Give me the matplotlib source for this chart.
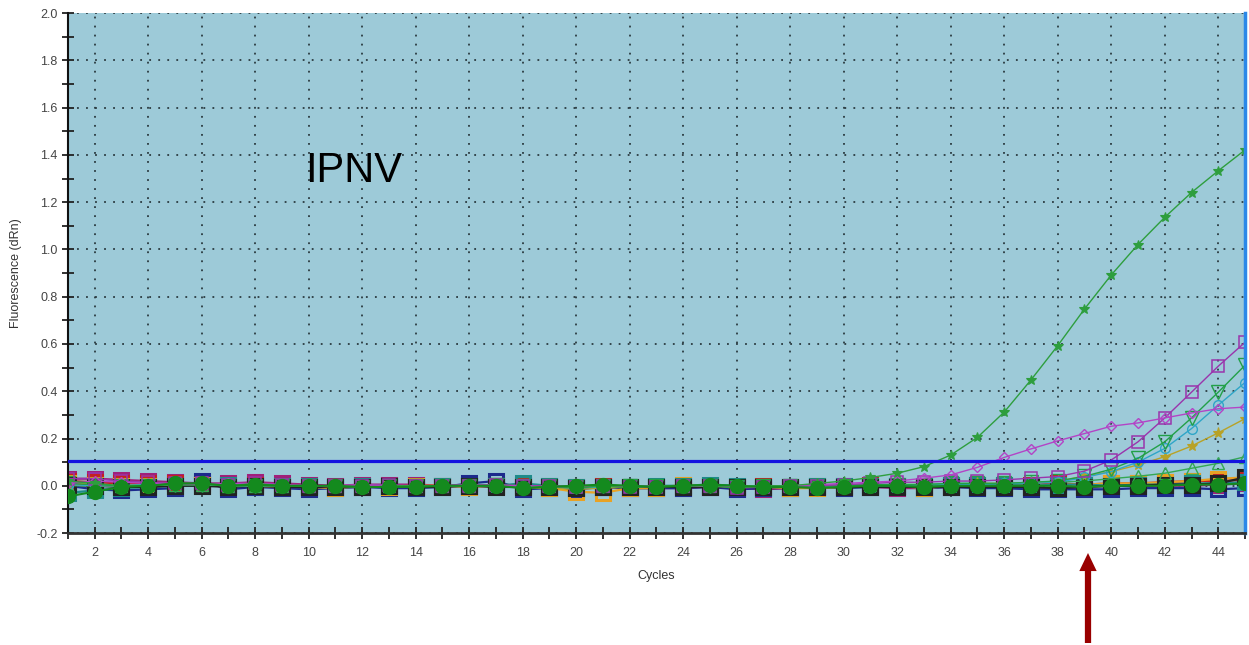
import matplotlib
matplotlib.use('Agg')
from matplotlib import pyplot as plt
from matplotlib.ticker import MultipleLocator, FormatStrFormatter

plt.rcParams['font.family'] = ['Liberation Sans', 'DejaVu Sans']

###data###

cycles = list(range(1, 46))

# amplification curves that cross the threshold
green_star = [0.02, 0.01, 0.0, 0.0, 0.01, 0.01, 0.0, 0.01, 0.0, 0.0,
              0.0, -0.01, 0.0, 0.0, 0.0, 0.0, 0.0, -0.01, 0.0, -0.01,
              0.0, -0.01, 0.0, 0.0, 0.0, -0.01, 0.0, 0.0, 0.01, 0.02,
              0.035, 0.053, 0.081, 0.13, 0.205, 0.312, 0.448, 0.593, 0.748, 0.892,
              1.021, 1.136, 1.241, 1.333, 1.421]
purple_diamond = [0.01, 0.02, 0.015, 0.01, 0.01, 0.005, 0.01, 0.01, 0.005, 0.0,
                  0.0, 0.005, 0.0, 0.0, 0.0, 0.005, 0.0, 0.0, -0.005, -0.005,
                  0.0, -0.005, 0.0, 0.0, 0.0, -0.005, -0.005, 0.0, 0.005, 0.01,
                  0.015, 0.02, 0.032, 0.046, 0.078, 0.12, 0.156, 0.19, 0.221, 0.252,
                  0.266, 0.287, 0.308, 0.326, 0.333]
purple_square = [0.03, 0.03, 0.02, 0.015, 0.01, 0.01, 0.005, 0.01, 0.005, 0.0,
                 0.0, 0.0, 0.005, 0.0, 0.0, 0.0, 0.005, 0.0, 0.0, -0.005,
                 0.0, -0.005, -0.005, 0.0, 0.0, -0.01, -0.005, 0.0, 0.0, 0.005,
                 0.01, 0.015, 0.015, 0.02, 0.02, 0.025, 0.032, 0.039, 0.062, 0.109,
                 0.186, 0.287, 0.396, 0.506, 0.607]
green_down = [0.01, 0.005, 0.0, 0.0, 0.005, 0.005, 0.0, 0.0, 0.0, 0.0,
              0.0, -0.005, 0.0, 0.0, 0.0, 0.0, 0.005, 0.0, 0.0, -0.005,
              0.0, 0.0, 0.0, 0.0, 0.0, -0.005, 0.0, 0.0, 0.0, 0.0,
              0.005, 0.005, 0.005, 0.01, 0.01, 0.01, 0.015, 0.02, 0.04, 0.07,
              0.116, 0.186, 0.287, 0.396, 0.51]
cyan_circle = [0.005, 0.0, 0.0, 0.005, 0.005, 0.005, 0.0, 0.0, 0.0, 0.0,
               0.0, 0.0, -0.005, 0.0, 0.0, 0.0, 0.0, 0.0, -0.005, -0.01,
               -0.005, 0.0, 0.0, 0.0, 0.0, -0.005, 0.0, 0.0, 0.0, 0.0,
               0.0, 0.0, 0.005, 0.005, 0.005, 0.01, 0.01, 0.015, 0.035, 0.06,
               0.1, 0.158, 0.242, 0.341, 0.437]
olive_star = [0.005, 0.0, 0.0, 0.0, 0.005, 0.005, 0.0, 0.0, 0.0, 0.0,
              -0.005, 0.0, 0.0, 0.0, 0.0, 0.0, 0.0, 0.0, -0.01, -0.015,
              -0.01, -0.005, 0.0, 0.0, 0.0, 0.0, -0.005, 0.0, 0.0, 0.0,
              0.0, 0.005, 0.005, 0.005, 0.01, 0.01, 0.01, 0.02, 0.04, 0.06,
              0.088, 0.123, 0.168, 0.224, 0.284]
green_up = [0.0, 0.0, 0.0, 0.005, 0.005, 0.005, 0.0, 0.0, 0.0, 0.0,
            0.0, 0.0, 0.0, 0.0, 0.0, 0.0, 0.005, 0.0, 0.0, 0.0,
            0.0, 0.0, 0.0, 0.0, 0.0, 0.0, 0.0, 0.0, 0.0, 0.0,
            0.005, 0.005, 0.005, 0.01, 0.01, 0.01, 0.015, 0.015, 0.02, 0.03,
            0.04, 0.053, 0.074, 0.095, 0.123]

# flat (negative) wells
magenta_sq = [0.03, 0.03, 0.025, 0.02, 0.015, 0.01, 0.01, 0.015, 0.01, 0.005,
              0.0, 0.005, 0.005, 0.005, 0.0, 0.0, 0.0, 0.0, -0.005, -0.01,
              -0.005, -0.01, -0.01, -0.01, -0.005, -0.01, -0.015, -0.01, -0.005, -0.005,
              -0.005, -0.01, -0.01, -0.005, -0.005, -0.01, -0.01, -0.01, -0.005, 0.0,
              0.0, 0.0, 0.0, 0.005, 0.01]
navy_sq = [0.0, -0.015, -0.02, -0.015, -0.01, 0.02, -0.015, -0.005, -0.01, -0.015,
           -0.01, -0.005, -0.01, -0.01, -0.005, 0.01, 0.02, -0.015, -0.01, -0.015,
           -0.005, -0.01, -0.01, -0.01, -0.005, -0.015, -0.01, -0.01, -0.005, -0.01,
           -0.005, 0.0, -0.01, -0.005, -0.01, -0.01, -0.015, -0.015, -0.015, -0.015,
           -0.01, -0.01, -0.01, -0.015, -0.01]
red_sq = [0.02, 0.015, 0.01, 0.01, 0.01, 0.005, 0.005, 0.005, 0.0, 0.0,
          -0.005, -0.005, 0.0, 0.0, 0.0, 0.0, 0.0, 0.005, 0.0, -0.005,
          0.0, -0.005, -0.005, 0.0, 0.0, -0.005, 0.0, -0.005, 0.0, 0.0,
          0.005, 0.0, 0.0, 0.0, 0.005, 0.0, 0.005, 0.01, 0.005, 0.01,
          0.01, 0.015, 0.02, 0.02, 0.025]
orange_sq = [0.01, 0.005, 0.0, 0.0, 0.0, 0.005, 0.0, 0.0, -0.005, -0.005,
             -0.01, 0.0, -0.005, 0.0, 0.0, -0.005, 0.0, -0.005, -0.01, -0.025,
             -0.03, -0.01, -0.01, 0.005, 0.0, -0.005, -0.005, -0.01, -0.01, -0.005,
             0.0, 0.0, -0.01, 0.0, 0.0, 0.0, 0.0, 0.005, 0.005, 0.01,
             0.01, 0.015, 0.02, 0.03, 0.035]
teal_sq = [-0.03, -0.02, -0.01, -0.005, 0.0, 0.0, 0.005, 0.0, 0.0, 0.0,
           -0.005, 0.0, 0.0, -0.005, 0.0, 0.0, 0.0, 0.01, 0.0, -0.005,
           -0.005, -0.005, 0.0, 0.0, 0.005, 0.0, -0.005, -0.005, 0.0, 0.0,
           0.0, 0.0, 0.0, 0.005, 0.005, 0.005, 0.0, 0.005, 0.005, 0.0,
           0.005, 0.005, 0.01, 0.01, 0.015]
black_sq = [0.005, 0.0, -0.005, -0.005, 0.0, 0.0, -0.005, 0.0, -0.005, -0.005,
            -0.005, -0.005, 0.0, -0.005, -0.005, 0.0, -0.005, -0.005, -0.005, -0.01,
            -0.005, -0.005, -0.005, -0.005, -0.005, -0.005, -0.005, -0.005, -0.005, -0.005,
            -0.005, -0.005, -0.005, -0.005, -0.005, -0.005, -0.005, -0.01, -0.005, 0.0,
            0.0, 0.005, 0.005, 0.01, 0.035]
green_dot = [-0.045, -0.025, -0.005, 0.0, 0.01, 0.01, 0.0, 0.005, 0.0, 0.0,
             0.0, -0.005, -0.005, -0.005, 0.0, 0.0, 0.0, -0.01, -0.005, 0.0,
             0.005, 0.0, -0.005, 0.0, 0.005, 0.0, -0.005, -0.005, -0.01, -0.005,
             0.0, 0.0, -0.005, 0.0, 0.0, 0.0, 0.0, 0.0, -0.005, 0.0,
             0.0, 0.0, 0.005, 0.005, 0.01]

threshold = 0.104

###graph###

fig = plt.figure(figsize=(12.49, 6.45), dpi=100)
ax = fig.add_axes([0.0544, 0.1736, 0.9424, 0.806])
ax.set_facecolor('#9dcad8')

# negatives first, open squares with thick edges
for vals, col in [(magenta_sq, '#a0207a'), (navy_sq, '#1c2a8c'), (red_sq, '#c42020'),
                  (orange_sq, '#e8a224'), (teal_sq, '#1f8a8a'), (black_sq, '#222222')]:
    ax.plot(cycles, vals, color=col, lw=1.6, marker='s', ms=9.5, mfc='none',
            mec=col, mew=2.2)

# rising curves
ax.plot(cycles, green_up, color='#34a853', lw=1, marker='^', ms=9, mfc='none', mew=1)
ax.plot(cycles, olive_star, color='#b8a226', lw=1, marker='*', ms=8, mew=0.8)
ax.plot(cycles, cyan_circle, color='#2fa6c8', lw=1, marker='o', ms=7, mfc='none', mew=1)
ax.plot(cycles, green_down, color='#22a048', lw=1, marker='v', ms=10, mfc='none', mew=1)
ax.plot(cycles, purple_square, color='#9a34ac', lw=1, marker='s', ms=8.5, mfc='none', mew=1.1)
ax.plot(cycles, purple_diamond, color='#b344c6', lw=1, marker='D', ms=5.5, mfc='none', mew=1)
ax.plot(cycles, green_star, color='#2e9e3e', lw=1, marker='*', ms=7, mew=0.8)

ax.plot(cycles, green_dot, color='#148a1e', lw=1.5, marker='o', ms=10, zorder=5)

# threshold line
ax.axhline(threshold, color='#1414e0', lw=2.3, zorder=6)

ax.set_xlim(1, 45)
ax.set_ylim(-0.2, 2.0)
ax.xaxis.set_major_locator(MultipleLocator(2))
ax.xaxis.set_minor_locator(MultipleLocator(1))
ax.yaxis.set_major_locator(MultipleLocator(0.2))
ax.yaxis.set_minor_locator(MultipleLocator(0.1))
ax.yaxis.set_major_formatter(FormatStrFormatter('%.1f'))
ax.tick_params(which='both', direction='inout', colors='#222222', labelcolor='#444444',
               labelsize=9, width=1.3, length=8)
ax.tick_params(axis='x', pad=6)

ax.grid(which='major', color='#2a3a40', linestyle=(0, (1, 4)), linewidth=1.3)
ax.set_axisbelow(True)

ax.spines['top'].set_visible(False)
ax.spines['left'].set_color('#111111')
ax.spines['left'].set_linewidth(1.5)
ax.spines['bottom'].set_color('#333333')
ax.spines['bottom'].set_linewidth(2)
ax.spines['right'].set_color('#2a88e8')
ax.spines['right'].set_linewidth(2.5)

ax.set_xlabel('Cycles', fontsize=9, color='#333333', labelpad=8)
ax.set_ylabel('Fluorescence (dRn)', fontsize=9, color='#333333', labelpad=10)

ax.text(9.85, 1.33, 'IPNV', fontsize=30, ha='left', va='center', color='black')

# arrow under the chart pointing at cycle 39
ax.annotate('', xy=(1088 / 1249, 1 - 553 / 645), xytext=(1088 / 1249, 1 - 643 / 645),
            xycoords='figure fraction', textcoords='figure fraction',
            arrowprops=dict(arrowstyle='simple,head_length=1.3,head_width=1.25,tail_width=0.45',
                            mutation_scale=10, fc='#990000', ec='none',
                            shrinkA=0, shrinkB=0))

plt.savefig('out.png', dpi=100)
